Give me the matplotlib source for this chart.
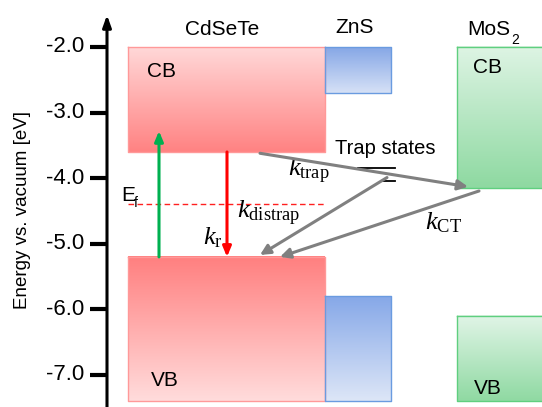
import numpy as np
import matplotlib
matplotlib.use("Agg")
import matplotlib.pyplot as plt
from matplotlib.colors import LinearSegmentedColormap

plt.rcParams['font.family'] = ['Liberation Sans', 'DejaVu Sans']
plt.rcParams['mathtext.fontset'] = 'custom'
plt.rcParams['mathtext.it'] = 'Liberation Serif:italic'
plt.rcParams['mathtext.rm'] = 'Liberation Serif'

# ---- data (energies in eV vs vacuum) ----
materials = ["CdSeTe", "ZnS", "MoS"]
cb_top = [-2.0, -2.0, -2.0]
cb_bottom = [-3.6, -2.7, -4.15]
vb_top = [-5.2, -5.8, -6.1]
vb_bottom = [-7.4, -7.4, -7.4]
fermi_level = -4.4
trap_levels = [-3.85, -4.04]
ytick_values = [-2.0, -3.0, -4.0, -5.0, -6.0, -7.0]
ytick_labels = ["-2.0", "-3.0", "-4.0", "-5.0", "-6.0", "-7.0"]

# ---- layout (horizontal positions in pixel-like units) ----
x_ranges = [(128, 325), (325, 391), (457, 560)]
cb_cols = [("#ffd8d8", "#ff8282"), ("#86a7e6", "#d6e1f6"), ("#def4e4", "#8ed9a1")]
vb_cols = [("#ff7f7f", "#ffdcdc"), ("#86a8e8", "#dde6f7"), ("#e1f5e7", "#8fd9a2")]
edge_cols = ["#ff9999", "#6a9be0", "#5fcf7f"]

fig = plt.figure(figsize=(5.42, 4.07), dpi=100)
ax = fig.add_axes([0, 0, 1, 1])
y_top = -2.0 + 47 / 65.6
y_bot = -2.0 - 360 / 65.6


def grad_rect(x0, x1, ytop, ybot, ctop, cbot, edge):
    cmap = LinearSegmentedColormap.from_list("g", [ctop, cbot])
    grad = np.linspace(0, 1, 256).reshape(-1, 1)
    ax.imshow(grad, cmap=cmap, aspect='auto', extent=(x0, x1, ybot, ytop),
              origin='upper', zorder=1, interpolation='bilinear')
    ax.plot([x0, x1, x1, x0, x0], [ytop, ytop, ybot, ybot, ytop],
            color=edge, lw=1.0, zorder=2, clip_on=True)


for i in range(3):
    x0, x1 = x_ranges[i]
    grad_rect(x0, x1, cb_top[i], cb_bottom[i], cb_cols[i][0], cb_cols[i][1], edge_cols[i])
    grad_rect(x0, x1, vb_top[i], vb_bottom[i], vb_cols[i][0], vb_cols[i][1], edge_cols[i])

ax.set_xlim(0, 542)
ax.set_ylim(y_bot, y_top)
ax.axis('off')

# vertical energy axis with arrow
ax.annotate("", xy=(107, -2.0 + 32 / 65.6), xytext=(107, y_bot),
            arrowprops=dict(arrowstyle="-|>,head_length=0.7,head_width=0.25",
                            color="black", lw=2.2, shrinkA=0, shrinkB=0), zorder=5)
for v, lab in zip(ytick_values, ytick_labels):
    ax.plot([90, 107], [v, v], color='black', lw=3.0, solid_capstyle='butt', zorder=5)
    ax.text(84, v, lab, ha='right', va='center', fontsize=16)

fig.text(23 / 542, 1 - 210 / 407, "Energy vs. vacuum [eV]", rotation=90,
         ha='center', va='center', fontsize=13.5)

# material labels
lbl = 15
ax.text(222, -1.74, materials[0], ha='center', va='center', fontsize=lbl)
ax.text(355, -1.70, materials[1], ha='center', va='center', fontsize=lbl)
ax.text(467, -1.74, materials[2], ha='left', va='center', fontsize=lbl)
ax.text(511, -1.90, "2", ha='left', va='center', fontsize=10)
ax.text(161, -2.38, "CB", ha='center', va='center', fontsize=lbl)
ax.text(165, -7.08, "VB", ha='center', va='center', fontsize=lbl)
ax.text(488, -2.32, "CB", ha='center', va='center', fontsize=lbl)
ax.text(488, -7.2, "VB", ha='center', va='center', fontsize=lbl)

# Fermi level
ax.plot([128, 325], [fermi_level, fermi_level], color='#ff2020', lw=1.0,
        ls=(0, (4, 2.5)), zorder=3)
ax.text(121, -4.26, "E", ha='left', va='center', fontsize=15)
ax.text(134, -4.38, "f", ha='left', va='center', fontsize=10)

# excitation / recombination arrows
ax.annotate("", xy=(159, -3.28), xytext=(159, vb_top[0]),
            arrowprops=dict(arrowstyle="-|>,head_length=0.6,head_width=0.25",
                            color="#00b050", lw=2.2, shrinkA=0, shrinkB=0), zorder=4)
ax.annotate("", xy=(227, vb_top[0]), xytext=(227, cb_bottom[0]),
            arrowprops=dict(arrowstyle="-|>,head_length=0.6,head_width=0.25",
                            color="#ff0000", lw=2.2, shrinkA=0, shrinkB=0), zorder=4)

# trap states
ax.plot([358, 395], [trap_levels[0], trap_levels[0]], color='black', lw=1.3, zorder=4)
ax.plot([381, 395], [trap_levels[1], trap_levels[1]], color='black', lw=1.3, zorder=4)
ax.text(385, -3.54, "Trap states", ha='center', va='center', fontsize=14.5)

gray = "#808080"
aprops = dict(arrowstyle="-|>,head_length=0.6,head_width=0.3", color=gray,
              lw=2.2, shrinkA=0, shrinkB=0)
ax.annotate("", xy=(468, -4.13), xytext=(260, -3.62), arrowprops=aprops, zorder=4)
ax.annotate("", xy=(280, -5.20), xytext=(479, -4.195), arrowprops=aprops, zorder=4)
ax.annotate("", xy=(260, -5.17), xytext=(387, -3.99), arrowprops=aprops, zorder=4)

# rate labels
kfs = 19
ax.text(309, -3.9, r"$k_{\mathrm{trap}}$", ha='center', va='center', fontsize=kfs)
ax.text(237, -4.53, r"$k_{\mathrm{distrap}}$", ha='left', va='center', fontsize=kfs)
ax.text(223, -4.91, r"$k_{\mathrm{r}}$", ha='right', va='center', fontsize=kfs)
ax.text(444, -4.68, r"$k_{\mathrm{CT}}$", ha='center', va='center', fontsize=kfs)

fig.savefig("out.png", dpi=100)
